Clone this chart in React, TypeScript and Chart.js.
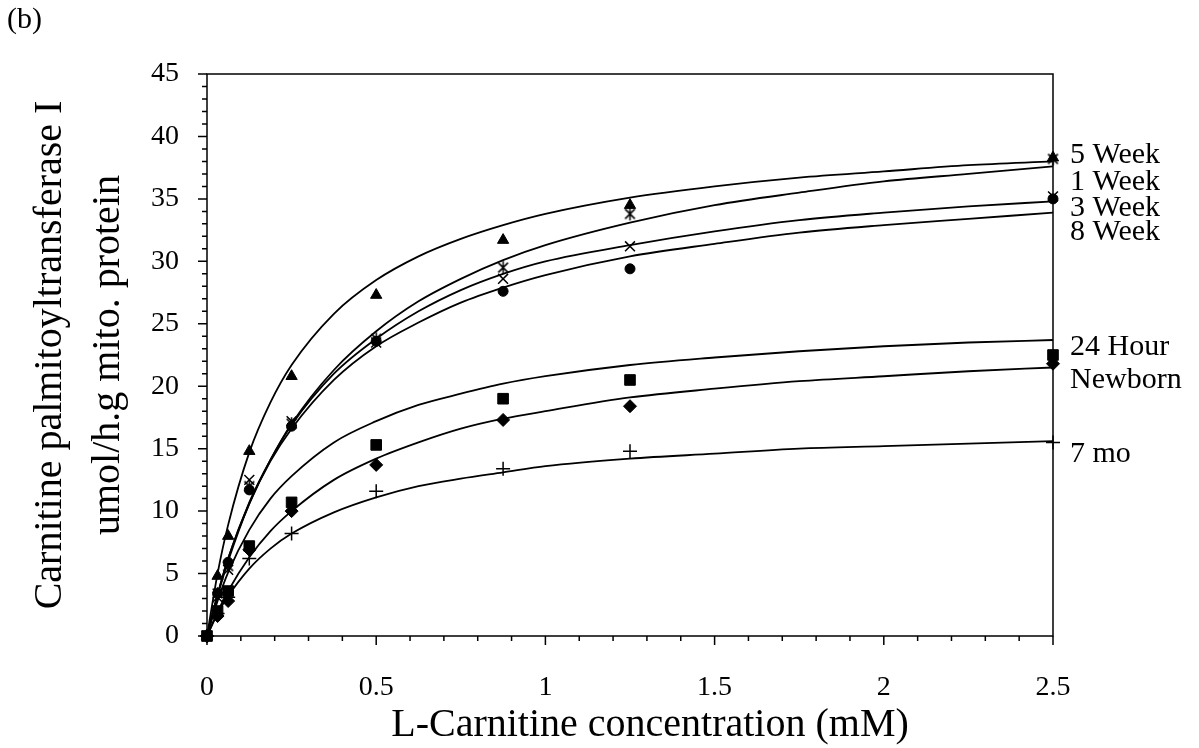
import React, { useEffect, useRef } from 'react';
import { Chart, registerables } from 'chart.js';

Chart.register(...registerables);

// ---------- data ----------
const seriesNames = ['5 Week', '1 Week', '3 Week', '8 Week', '24 Hour', 'Newborn', '7 mo'];

// measured points
const pointX = [0, 0.03125, 0.0625, 0.125, 0.25, 0.5, 0.875, 1.25, 2.5];
const week5Pts = [0, 4.8, 8.0, 14.8, 20.8, 27.3, 31.7, 34.5, 38.3];
const week1Pts = [0, 3.4, 5.6, 12.0, 17.0, 23.8, 29.5, 33.8, 38.2];
const week3Pts = [0, 3.1, 5.3, 12.5, 17.2, 23.5, 28.6, 31.2, 35.2];
const week8Pts = [0, 3.4, 5.9, 11.7, 16.8, 23.6, 27.6, 29.4, 35.0];
const hour24Pts = [0, 2.0, 3.6, 7.2, 10.7, 15.3, 19.0, 20.5, 22.5];
const newbornPts = [0, 1.6, 2.8, 6.9, 10.0, 13.7, 17.3, 18.4, 21.8];
const mo7Pts = [0, 1.8, 3.1, 6.2, 8.2, 11.6, 13.4, 14.8, 15.5];

// fitted curves, values
const curveX = [0, 0.03125, 0.0625, 0.125, 0.1875, 0.25, 0.375, 0.5, 0.625, 0.75, 0.875, 1, 1.25, 1.5, 1.75, 2, 2.25, 2.5];
const week5Curve = [0, 5.0, 8.9, 14.7, 18.7, 21.7, 25.8, 28.5, 30.4, 31.8, 32.9, 33.8, 35.1, 36.0, 36.7, 37.2, 37.7, 38.0];
const week1Curve = [0, 3.2, 6.0, 10.6, 14.1, 17.0, 21.3, 24.4, 26.8, 28.6, 30.1, 31.3, 33.1, 34.5, 35.5, 36.4, 37.0, 37.6];
const week3Curve = [0, 3.3, 6.2, 10.7, 14.1, 16.9, 21.0, 23.8, 26.0, 27.7, 29.0, 30.0, 31.3, 32.4, 33.3, 33.9, 34.4, 34.8];
const week8Curve = [0, 3.3, 6.2, 10.6, 14.0, 16.6, 20.5, 23.2, 25.1, 26.7, 27.9, 28.9, 30.4, 31.4, 32.3, 32.9, 33.4, 33.9];
const hour24Curve = [0, 2.8, 5.1, 8.5, 11.0, 12.8, 15.5, 17.2, 18.5, 19.4, 20.2, 20.8, 21.7, 22.3, 22.8, 23.2, 23.5, 23.7];
const newbornCurve = [0, 1.9, 3.6, 6.3, 8.4, 10.0, 12.5, 14.2, 15.5, 16.6, 17.4, 18.0, 19.1, 19.8, 20.4, 20.8, 21.2, 21.5];
const mo7Curve = [0, 1.8, 3.2, 5.4, 7.0, 8.2, 9.9, 11.1, 12.0, 12.6, 13.1, 13.6, 14.2, 14.6, 15.0, 15.2, 15.4, 15.6];

const yTickValues = [0, 5, 10, 15, 20, 25, 30, 35, 40, 45];
const xTickLabels = ['0', '0.5', '1', '1.5', '2', '2.5'];

const panelLabel = '(b)';
const yTitleLines = ['Carnitine palmitoyltransferase I', 'umol/h.g mito. protein'];
const xTitle = 'L-Carnitine concentration (mM)';

// ---------- styling / layout ----------
const FONT = "'Liberation Serif', 'Times New Roman', Times, serif";
const W = 1199;
const H = 748;
const PLOT = { left: 207, right: 1053, top: 74, bottom: 636 };
// baseline y of each right-hand label (same order as seriesNames)
const rightLabelBaselines = [163, 190, 216, 240, 355, 388, 462];
const RIGHT_LABEL_X = 1070;

function makeAsterisk(size: number, lw: number): HTMLCanvasElement {
  const c = document.createElement('canvas');
  c.width = size;
  c.height = size;
  const g = c.getContext('2d')!;
  g.strokeStyle = '#000';
  g.lineWidth = lw;
  const m = size / 2;
  const r = size / 2 - 1;
  const d = r * 0.75;
  g.beginPath();
  g.moveTo(m, m - r);
  g.lineTo(m, m + r);
  g.moveTo(m - d, m - d);
  g.lineTo(m + d, m + d);
  g.moveTo(m + d, m - d);
  g.lineTo(m - d, m + d);
  g.stroke();
  return c;
}

const toXY = (xs: number[], ys: number[]) => xs.map((x, i) => ({ x, y: ys[i] }));

const decorPlugin = {
  id: 'decor',
  beforeDatasetsDraw(chart: any) {
    const { ctx, chartArea: a, scales } = chart;
    const x = scales.x;
    const y = scales.y;
    ctx.save();
    ctx.strokeStyle = '#000';
    ctx.lineWidth = 1.5;
    ctx.strokeRect(a.left, a.top, a.right - a.left, a.bottom - a.top);
    ctx.beginPath();
    for (let v = 0; v <= 45; v += 1) {
      const py = y.getPixelForValue(v);
      const len = v % 5 === 0 ? 9 : 5;
      ctx.moveTo(a.left - len, py);
      ctx.lineTo(a.left, py);
    }
    for (let i = 0; i <= 25; i++) {
      const px = x.getPixelForValue(i / 10);
      const len = i % 5 === 0 ? 9 : 5;
      ctx.moveTo(px, a.bottom);
      ctx.lineTo(px, a.bottom + len);
    }
    ctx.stroke();
    ctx.restore();
  },
  afterDraw(chart: any) {
    const { ctx, chartArea: a } = chart;
    ctx.save();
    ctx.fillStyle = '#000';
    ctx.textBaseline = 'alphabetic';
    // panel label
    ctx.font = `30px ${FONT}`;
    ctx.textAlign = 'left';
    ctx.fillText(panelLabel, 7, 28);
    // right labels
    ctx.font = `30px ${FONT}`;
    seriesNames.forEach((name, i) => {
      ctx.fillText(name, RIGHT_LABEL_X, rightLabelBaselines[i]);
    });
    // x title
    ctx.font = `40px ${FONT}`;
    ctx.textAlign = 'center';
    ctx.textBaseline = 'middle';
    ctx.fillText(xTitle, (a.left + a.right) / 2 + 20, 725);
    // y title
    const cy = (a.top + a.bottom) / 2;
    ctx.save();
    ctx.translate(50, cy);
    ctx.rotate(-Math.PI / 2);
    ctx.fillText(yTitleLines[0], 0, 0);
    ctx.restore();
    ctx.save();
    ctx.translate(108, cy);
    ctx.rotate(-Math.PI / 2);
    ctx.fillText(yTitleLines[1], 0, 0);
    ctx.restore();
    ctx.restore();
  },
};

export default function App() {
  const ref = useRef<HTMLCanvasElement>(null);

  useEffect(() => {
    if (!ref.current) return;
    const asterisk = makeAsterisk(15, 1.5);
    const pointSets = [week5Pts, week1Pts, week3Pts, week8Pts, hour24Pts, newbornPts, mo7Pts];
    const curveSets = [week5Curve, week1Curve, week3Curve, week8Curve, hour24Curve, newbornCurve, mo7Curve];
    const styles: any[] = [
      { pointStyle: 'triangle', radius: 6.5, borderWidth: 1 },
      { pointStyle: asterisk, radius: 7, borderWidth: 1.5 },
      { pointStyle: 'crossRot', radius: 7, borderWidth: 1.5 },
      { pointStyle: 'circle', radius: 5, borderWidth: 1 },
      { pointStyle: 'rect', radius: 7.5, borderWidth: 1 },
      { pointStyle: 'rectRot', radius: 6.5, borderWidth: 1 },
      { pointStyle: 'cross', radius: 7, borderWidth: 1.5 },
    ];

    const pointDatasets = pointSets.map((ys, i) => ({
      label: seriesNames[i] + ' data',
      data: toXY(pointX, ys),
      showLine: false,
      pointStyle: styles[i].pointStyle,
      pointRadius: styles[i].radius,
      pointBorderWidth: styles[i].borderWidth,
      pointBackgroundColor: '#000',
      pointBorderColor: '#000',
      clip: false as any,
      order: 0,
    }));
    const curveDatasets = curveSets.map((ys, i) => ({
      label: seriesNames[i],
      data: toXY(curveX, ys),
      showLine: true,
      pointRadius: 0,
      borderColor: '#000',
      borderWidth: 1.8,
      cubicInterpolationMode: 'monotone' as const,
      fill: false,
      clip: false as any,
      order: 1,
    }));

    const chart = new Chart(ref.current, {
      type: 'scatter',
      data: { datasets: [...pointDatasets, ...curveDatasets] as any },
      options: {
        animation: false,
        responsive: false,
        devicePixelRatio: 1,
        events: [],
        layout: { padding: { left: 0, top: PLOT.top, right: W - PLOT.right, bottom: 0 } },
        plugins: { legend: { display: false }, tooltip: { enabled: false }, title: { display: false } },
        scales: {
          x: {
            type: 'linear',
            min: 0,
            max: 2.5,
            grid: { display: false, drawTicks: false },
            border: { display: false },
            ticks: {
              stepSize: 0.5,
              padding: 35,
              color: '#000',
              font: { family: FONT, size: 28 },
              maxRotation: 0,
              callback: (v: any) => {
                const idx = Math.round(Number(v) / 0.5);
                return xTickLabels[idx] ?? '';
              },
            },
            afterFit: (s: any) => {
              s.height = H - PLOT.bottom;
            },
          },
          y: {
            type: 'linear',
            min: 0,
            max: 45,
            grid: { display: false, drawTicks: false },
            border: { display: false },
            ticks: {
              stepSize: 5,
              padding: 28,
              color: '#000',
              font: { family: FONT, size: 28 },
              callback: (v: any) => (yTickValues.includes(Number(v)) ? String(v) : ''),
            },
            afterFit: (s: any) => {
              s.width = PLOT.left;
            },
          },
        },
      },
      plugins: [decorPlugin],
    });
    return () => chart.destroy();
  }, []);

  return (
    <div style={{ position: 'absolute', left: 0, top: 0, width: W, height: H, background: '#fff' }}>
      <canvas ref={ref} width={W} height={H} style={{ display: 'block', width: W, height: H }} />
    </div>
  );
}
